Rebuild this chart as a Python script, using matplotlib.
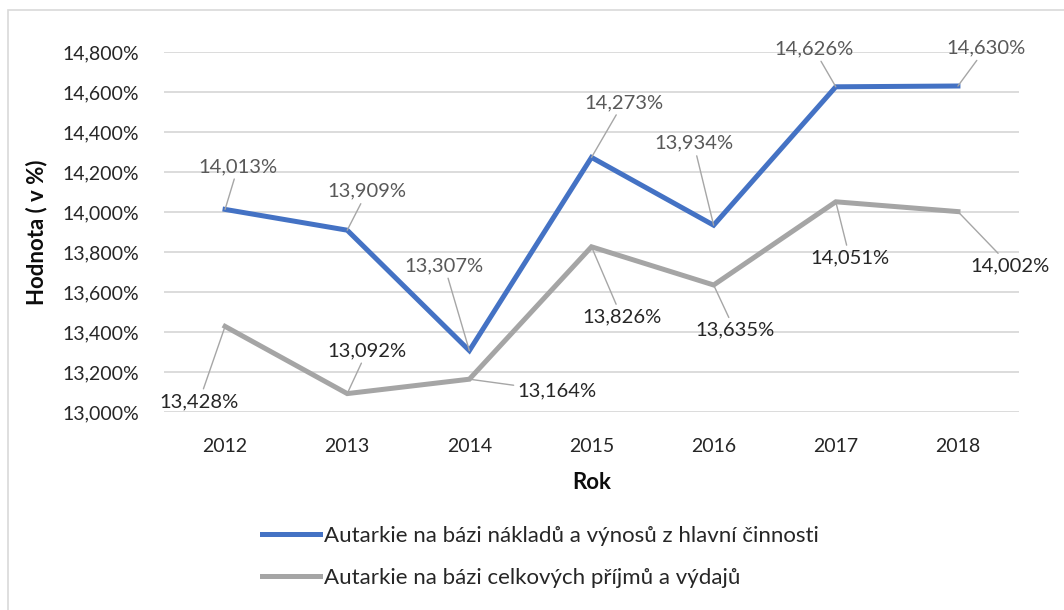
import matplotlib
matplotlib.use("Agg")
import matplotlib.pyplot as plt
from matplotlib.patches import Rectangle

YEARS = ["2012", "2013", "2014", "2015", "2016", "2017", "2018"]
NAKLADY = [14.013, 13.909, 13.307, 14.273, 13.934, 14.626, 14.630]
PRIJMY = [13.428, 13.092, 13.164, 13.826, 13.635, 14.051, 14.002]
SERIES_NAMES = ["Autarkie na bázi nákladů a výnosů z hlavní činnosti",
                "Autarkie na bázi celkových příjmů a výdajů"]
Y_TICKS = [13.0, 13.2, 13.4, 13.6, 13.8, 14.0, 14.2, 14.4, 14.6, 14.8]

# label offsets in pixels (dx, dy) from the data point
OFF_BLUE = [(13, 43), (20, 39), (-25, 85), (32, 55), (-20, 82), (-22, 38), (28, 38)]
OFF_GRAY = [(-26, -75), (20, 43), (88, -12), (30, -70), (21, -45), (14, -56), (52, -54)]

BLUE = "#4472C4"
GRAY = "#A5A5A5"
FONT = "Lato"


def fmt(v):
    return f"{v:.3f}".replace(".", ",") + "%"


def main():
    plt.rcParams["font.family"] = [FONT, "DejaVu Sans"]
    fig = plt.figure(figsize=(10.64, 6.10), dpi=100)
    fig.patches.append(Rectangle((8 / 1064, -0.1), 1.2, 1 - 10 / 610 + 0.1,
                                 transform=fig.transFigure, fill=False,
                                 edgecolor="#D9D9D9", lw=1.2))
    ax = fig.add_axes([164 / 1064, 1 - 412 / 610, 855 / 1064, 360 / 610])
    x = list(range(len(YEARS)))

    ax.plot(x, NAKLADY, color=BLUE, lw=3.6, solid_joinstyle="miter",
            label=SERIES_NAMES[0], zorder=3)
    ax.plot(x, PRIJMY, color=GRAY, lw=3.6, solid_joinstyle="miter",
            label=SERIES_NAMES[1], zorder=3)

    for vals, offs, col in ((NAKLADY, OFF_BLUE, "#595959"),
                            (PRIJMY, OFF_GRAY, "#262626")):
        for i, (v, (dx, dy)) in enumerate(zip(vals, offs)):
            ax.annotate(fmt(v), xy=(i, v), xytext=(dx, dy),
                        textcoords="offset pixels", ha="center", va="center",
                        fontsize=14.5, color=col, zorder=4,
                        arrowprops=dict(arrowstyle="-", color="#A6A6A6",
                                        lw=1.0, shrinkA=1, shrinkB=0))

    ax.set_xlim(-0.5, len(YEARS) - 0.5)
    ax.set_ylim(13.0, 14.8)
    ax.set_yticks(Y_TICKS)
    ax.set_yticklabels([fmt(t) for t in Y_TICKS])
    ax.set_xticks(x)
    ax.set_xticklabels(YEARS)
    ax.tick_params(length=0, labelsize=14, colors="#262626")
    ax.tick_params(axis="x", pad=19)
    ax.tick_params(axis="y", pad=18)
    ax.grid(axis="y", color="#D9D9D9", lw=1.3)
    ax.set_axisbelow(True)
    for s in ax.spines.values():
        s.set_visible(False)
    ax.set_xlabel("Rok", fontsize=16, fontweight="bold", color="#0D0D0D",
                  labelpad=12)
    ax.set_ylabel("Hodnota ( v %)", fontsize=16, fontweight="bold",
                  color="#0D0D0D", labelpad=11)

    fig.legend(loc="upper left", bbox_to_anchor=(262 / 1064, 1 - 526 / 610),
               frameon=False, fontsize=16, handlelength=2.6, handletextpad=0.2,
               labelspacing=1.0, borderaxespad=0, borderpad=0)
    for t in fig.legends[0].get_texts():
        t.set_color("#262626")

    fig.savefig("out.png", dpi=100)


if __name__ == "__main__":
    main()
